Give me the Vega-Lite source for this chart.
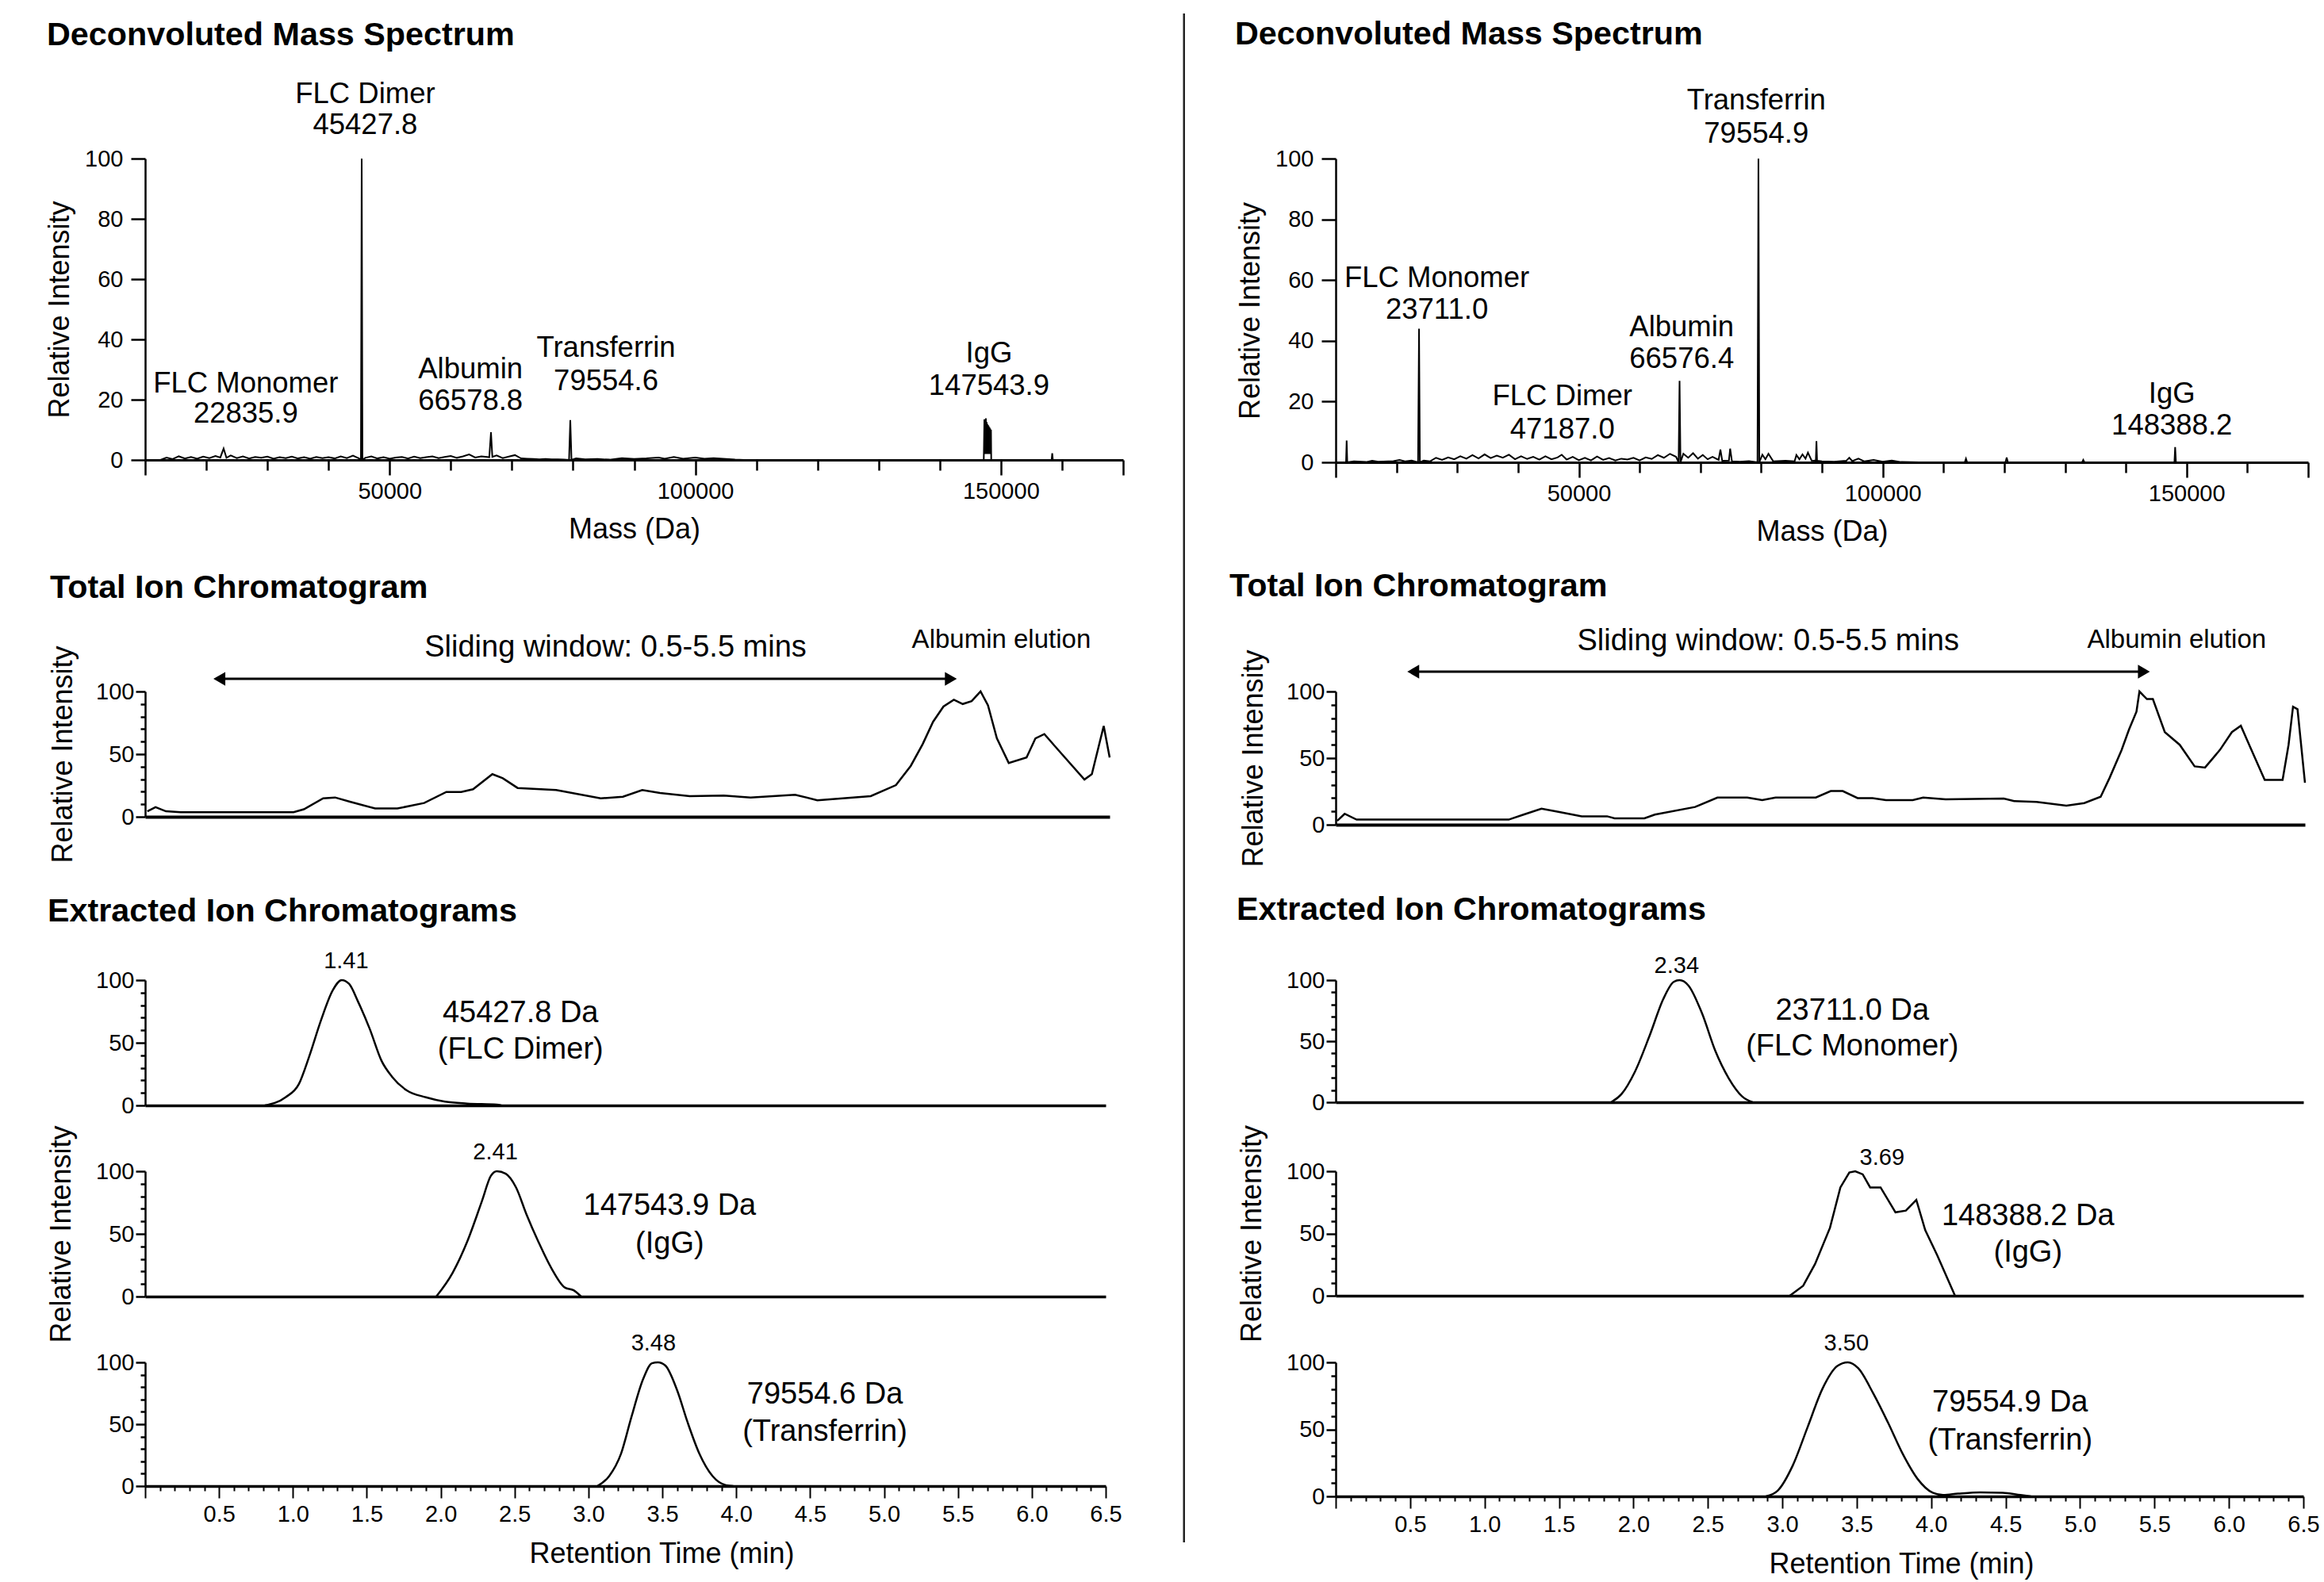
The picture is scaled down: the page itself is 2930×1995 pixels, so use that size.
{
"$schema": "https://vega.github.io/schema/vega-lite/v6.json",
"background": "white",
"padding": {"left": 57, "top": 15, "right": 5, "bottom": 5},
"columns": 2,
"align": "each",
"bounds": "flush",
"spacing": {"row": 83, "column": 268},
"config": {
  "font": "Liberation Sans",
  "view": {"stroke": null},
  "axis": {"labelFont": "Liberation Sans", "titleFont": "Liberation Sans", "labelColor": "black", "titleColor": "black", "domainColor": "black", "tickColor": "black", "titleFontWeight": "normal", "grid": false, "labelFontSize": 29, "titleFontSize": 36, "tickWidth": 2.5, "domainWidth": 2.5, "labelFlush": false},
  "title": {"font": "Liberation Sans", "fontSize": 41.3, "fontWeight": "bold", "color": "black", "anchor": "start", "frame": "group", "baseline": "bottom"},
  "text": {"font": "Liberation Sans", "color": "black", "align": "center", "baseline": "middle"}
},
"concat": [
{
 "width": 1233, "height": 380,
 "title": {"text": "Deconvoluted Mass Spectrum", "offset": 36, "dx": -124},
 "layer": [
  {"data": {"values": [
{"mass":12500,"int":0},{"mass":13500,"int":0.8},{"mass":14500,"int":0.3},{"mass":15500,"int":1.2},{"mass":16500,"int":0.5},{"mass":17500,"int":1.0},{"mass":18500,"int":0.4},{"mass":19500,"int":1.1},{"mass":20500,"int":0.6},{"mass":21500,"int":1.3},{"mass":22300,"int":0.8},{"mass":22835.9,"int":3.8},{"mass":23300,"int":0.7},{"mass":24000,"int":1.5},{"mass":25000,"int":0.6},{"mass":26000,"int":1.2},{"mass":27000,"int":0.5},{"mass":28000,"int":1.0},{"mass":29000,"int":0.7},{"mass":30000,"int":1.1},{"mass":31000,"int":0.4},{"mass":32000,"int":0.9},{"mass":33000,"int":0.6},{"mass":34000,"int":1.1},{"mass":35000,"int":0.5},{"mass":36000,"int":0.9},{"mass":37000,"int":0.4},{"mass":38000,"int":1.0},{"mass":39000,"int":0.6},{"mass":40000,"int":0.9},{"mass":41000,"int":0.5},{"mass":42000,"int":1.2},{"mass":43000,"int":0.6},{"mass":44000,"int":1.4},{"mass":45000,"int":0.5},{"mass":45300,"int":0},{"mass":45427.8,"int":100},{"mass":45550,"int":0},{"mass":46000,"int":0.7},{"mass":47000,"int":1.2},{"mass":48000,"int":0.5},{"mass":49000,"int":0.9},{"mass":50000,"int":0.4},{"mass":51000,"int":0.8},{"mass":52000,"int":1.0},{"mass":53000,"int":0.5},{"mass":54000,"int":1.1},{"mass":55000,"int":0.6},{"mass":56000,"int":0.9},{"mass":57000,"int":1.2},{"mass":58000,"int":0.6},{"mass":59000,"int":1.0},{"mass":60000,"int":1.3},{"mass":61000,"int":0.7},{"mass":62000,"int":1.2},{"mass":63000,"int":1.8},{"mass":64000,"int":0.8},{"mass":65000,"int":1.2},{"mass":66300,"int":0.9},{"mass":66578.8,"int":9.2},{"mass":66800,"int":1.0},{"mass":67500,"int":1.5},{"mass":68500,"int":0.6},{"mass":69500,"int":1.1},{"mass":70500,"int":1.6},{"mass":71500,"int":0.5},{"mass":72500,"int":0.4},{"mass":73500,"int":0.3},{"mass":74500,"int":0.2},{"mass":75500,"int":0.3},{"mass":76500,"int":0.2},{"mass":77500,"int":0.2},{"mass":78500,"int":0.1},{"mass":79350,"int":0},{"mass":79554.6,"int":13.2},{"mass":79750,"int":0},{"mass":80500,"int":0.5},{"mass":82000,"int":0.2},{"mass":84000,"int":0.3},{"mass":86000,"int":0.1},{"mass":88000,"int":0.6},{"mass":90000,"int":0.3},{"mass":92000,"int":0.5},{"mass":94000,"int":0.8},{"mass":95000,"int":0.4},{"mass":96500,"int":1.0},{"mass":98000,"int":0.4},{"mass":100000,"int":0.8},{"mass":101500,"int":0.4},{"mass":103000,"int":0.6},{"mass":105000,"int":0.3},{"mass":106500,"int":0.1},{"mass":108000,"int":0},{"mass":147200,"int":0},{"mass":147300,"int":13.5},{"mass":147360,"int":2},{"mass":147420,"int":13.2},{"mass":147480,"int":2},{"mass":147543.9,"int":13.8},{"mass":147600,"int":2},{"mass":147660,"int":12.6},{"mass":147720,"int":2},{"mass":147780,"int":12},{"mass":147840,"int":2},{"mass":147900,"int":11.6},{"mass":147960,"int":2},{"mass":148020,"int":11.2},{"mass":148080,"int":2},{"mass":148140,"int":10.8},{"mass":148200,"int":2},{"mass":148260,"int":10.4},{"mass":148320,"int":2},{"mass":148380,"int":10},{"mass":148420,"int":0},{"mass":158300,"int":0},{"mass":158400,"int":2.2},{"mass":158500,"int":0},{"mass":170000,"int":0}
  ]},
   "mark": {"type": "line", "color": "black", "strokeWidth": 2},
   "encoding": {
    "x": {"field": "mass", "type": "quantitative", "scale": {"domain": [10000, 170000], "nice": false, "zero": false},
      "axis": {"title": "Mass (Da)", "values": [10000,15000,20000,25000,30000,35000,40000,45000,50000,55000,60000,65000,70000,75000,80000,85000,90000,95000,100000,105000,110000,115000,120000,125000,130000,135000,140000,145000,150000,155000,160000,165000,170000], "format": "d", "labelExpr": "datum.value % 50000 === 0 ? datum.label : ''", "tickSize": {"condition": [{"test": "datum.value % 50000 === 0 || datum.value === 10000 || datum.value === 170000", "value": 19}, {"test": "datum.value % 10000 === 0", "value": 13}], "value": 5}, "labelPadding": 6, "titlePadding": 16, "domainWidth": 3}},
    "y": {"field": "int", "type": "quantitative", "scale": {"domain": [0, 100], "nice": false},
      "axis": {"title": "Relative Intensity", "values": [0,5,10,15,20,25,30,35,40,45,50,55,60,65,70,75,80,85,90,95,100], "labelExpr": "datum.value % 20 === 0 ? datum.label : ''", "tickSize": {"condition": {"test": "datum.value % 20 === 0", "value": 18}, "value": 9}, "labelPadding": 10, "titlePadding": 12}}
   }},
  {"data": {"values": [
{"mass":46000,"int":121.3,"label":"FLC Dimer"},{"mass":46000,"int":111.1,"label":"45427.8"},
{"mass":26460,"int":25.2,"label":"FLC Monomer"},{"mass":26460,"int":15.3,"label":"22835.9"},
{"mass":63230,"int":29.9,"label":"Albumin"},{"mass":63230,"int":19.6,"label":"66578.8"},
{"mass":85400,"int":37,"label":"Transferrin"},{"mass":85400,"int":26,"label":"79554.6"},
{"mass":148060,"int":35.2,"label":"IgG"},{"mass":148060,"int":24.6,"label":"147543.9"}
  ]},
   "mark": {"type": "text", "fontSize": 36.5},
   "encoding": {"x": {"field": "mass", "type": "quantitative"}, "y": {"field": "int", "type": "quantitative"}, "text": {"field": "label"}}}
 ]
},
{
 "width": 1226, "height": 383,
 "title": {"text": "Deconvoluted Mass Spectrum", "offset": 45, "dx": -127},
 "layer": [
  {"data": {"values": [
{"mass":11000,"int":0},{"mass":11700,"int":0},{"mass":11800,"int":7.2},{"mass":11900,"int":0},{"mass":13000,"int":0.3},{"mass":15000,"int":0.1},{"mass":16000,"int":0.5},{"mass":17000,"int":0.2},{"mass":19500,"int":0.4},{"mass":20500,"int":0.8},{"mass":21500,"int":0.3},{"mass":22500,"int":0.6},{"mass":23550,"int":0},{"mass":23711.0,"int":44},{"mass":23850,"int":0},{"mass":24500,"int":0.6},{"mass":25500,"int":0.3},{"mass":26500,"int":1.5},{"mass":27500,"int":0.8},{"mass":28500,"int":1.6},{"mass":29500,"int":1.0},{"mass":30500,"int":2.0},{"mass":31500,"int":1.2},{"mass":32500,"int":2.4},{"mass":33500,"int":1.3},{"mass":34500,"int":2.6},{"mass":35500,"int":1.4},{"mass":36500,"int":2.2},{"mass":37500,"int":1.5},{"mass":38500,"int":2.5},{"mass":39500,"int":1.0},{"mass":40500,"int":2.0},{"mass":41500,"int":1.1},{"mass":42500,"int":1.8},{"mass":43500,"int":0.9},{"mass":44500,"int":2.0},{"mass":45500,"int":1.0},{"mass":46500,"int":1.6},{"mass":47187.0,"int":2.5},{"mass":48000,"int":0.9},{"mass":49000,"int":1.8},{"mass":50000,"int":0.7},{"mass":51000,"int":1.5},{"mass":52000,"int":0.6},{"mass":53000,"int":1.9},{"mass":54000,"int":0.8},{"mass":55000,"int":1.4},{"mass":56000,"int":0.6},{"mass":57000,"int":1.2},{"mass":58000,"int":0.9},{"mass":59000,"int":1.5},{"mass":60000,"int":0.6},{"mass":61000,"int":1.6},{"mass":62000,"int":1.1},{"mass":63000,"int":2.4},{"mass":64000,"int":1.5},{"mass":65000,"int":2.8},{"mass":66000,"int":1.8},{"mass":66420,"int":0},{"mass":66576.4,"int":26.8},{"mass":66730,"int":0},{"mass":67200,"int":2.8},{"mass":68000,"int":1.5},{"mass":68800,"int":3.0},{"mass":69600,"int":1.2},{"mass":70400,"int":2.4},{"mass":71200,"int":1.0},{"mass":72000,"int":1.8},{"mass":73000,"int":0.8},{"mass":73300,"int":4.2},{"mass":73600,"int":0.5},{"mass":74700,"int":0.6},{"mass":74900,"int":4.5},{"mass":75200,"int":0.3},{"mass":76500,"int":0.2},{"mass":78000,"int":0.4},{"mass":79400,"int":0},{"mass":79554.9,"int":100},{"mass":79700,"int":0},{"mass":80200,"int":2.5},{"mass":80700,"int":1.0},{"mass":81200,"int":2.8},{"mass":82000,"int":0.3},{"mass":84000,"int":0.5},{"mass":85500,"int":0.3},{"mass":85800,"int":2.4},{"mass":86300,"int":1.0},{"mass":86800,"int":2.6},{"mass":87300,"int":1.2},{"mass":87700,"int":3.2},{"mass":88300,"int":0.6},{"mass":89000,"int":0.5},{"mass":89100,"int":7.0},{"mass":89200,"int":0.5},{"mass":90000,"int":0.3},{"mass":92000,"int":0.2},{"mass":94000,"int":0.5},{"mass":94500,"int":1.5},{"mass":95000,"int":0.4},{"mass":96000,"int":1.2},{"mass":97000,"int":0.3},{"mass":98500,"int":0.8},{"mass":100000,"int":0.2},{"mass":101500,"int":0.6},{"mass":103000,"int":0.1},{"mass":106000,"int":0},{"mass":113500,"int":0},{"mass":113700,"int":1.2},{"mass":113900,"int":0},{"mass":120200,"int":0},{"mass":120400,"int":1.6},{"mass":120600,"int":0},{"mass":132800,"int":0},{"mass":133000,"int":0.8},{"mass":133200,"int":0},{"mass":148000,"int":0},{"mass":148120,"int":5.0},{"mass":148250,"int":0},{"mass":170000,"int":0}
  ]},
   "mark": {"type": "line", "color": "black", "strokeWidth": 2},
   "encoding": {
    "x": {"field": "mass", "type": "quantitative", "scale": {"domain": [10000, 170000], "nice": false, "zero": false},
      "axis": {"title": "Mass (Da)", "values": [10000,15000,20000,25000,30000,35000,40000,45000,50000,55000,60000,65000,70000,75000,80000,85000,90000,95000,100000,105000,110000,115000,120000,125000,130000,135000,140000,145000,150000,155000,160000,165000,170000], "format": "d", "labelExpr": "datum.value % 50000 === 0 ? datum.label : ''", "tickSize": {"condition": [{"test": "datum.value % 50000 === 0 || datum.value === 10000 || datum.value === 170000", "value": 19}, {"test": "datum.value % 10000 === 0", "value": 13}], "value": 5}, "labelPadding": 6, "titlePadding": 16, "domainWidth": 3}},
    "y": {"field": "int", "type": "quantitative", "scale": {"domain": [0, 100], "nice": false},
      "axis": {"title": "Relative Intensity", "values": [0,5,10,15,20,25,30,35,40,45,50,55,60,65,70,75,80,85,90,95,100], "labelExpr": "datum.value % 20 === 0 ? datum.label : ''", "tickSize": {"condition": {"test": "datum.value % 20 === 0", "value": 18}, "value": 9}, "labelPadding": 10, "titlePadding": 12}}
   }},
  {"data": {"values": [
{"mass":26650,"int":60.6,"label":"FLC Monomer"},{"mass":26650,"int":50.2,"label":"23711.0"},
{"mass":47290,"int":21.8,"label":"FLC Dimer"},{"mass":47290,"int":10.8,"label":"47187.0"},
{"mass":66930,"int":44.4,"label":"Albumin"},{"mass":66930,"int":34,"label":"66576.4"},
{"mass":79200,"int":119,"label":"Transferrin"},{"mass":79200,"int":108,"label":"79554.9"},
{"mass":147580,"int":22.4,"label":"IgG"},{"mass":147580,"int":11.9,"label":"148388.2"}
  ]},
   "mark": {"type": "text", "fontSize": 36.5},
   "encoding": {"x": {"field": "mass", "type": "quantitative"}, "y": {"field": "int", "type": "quantitative"}, "text": {"field": "label"}}}
 ]
},
{"width": 10, "height": 123, "data": {"values": [{}]}, "mark": {"type": "point", "opacity": 0}},
{"width": 10, "height": 123, "data": {"values": [{}]}, "mark": {"type": "point", "opacity": 0}},
{
 "width": 1216, "height": 158,
 "title": {"text": "Total Ion Chromatogram", "offset": 28.5, "dx": -120},
 "resolve": {"axis": {"y": "independent"}},
 "layer": [
  {"data": {"values": [
{"t":0.015,"v":4.4},{"t":0.07,"v":7.7},{"t":0.14,"v":4.4},{"t":0.24,"v":3.7},{"t":1.0,"v":3.7},{"t":1.07,"v":6},{"t":1.2,"v":14.7},{"t":1.28,"v":15.4},{"t":1.38,"v":12},{"t":1.55,"v":6.6},{"t":1.7,"v":6.6},{"t":1.88,"v":11},{"t":2.03,"v":19.8},{"t":2.13,"v":19.8},{"t":2.21,"v":22},{"t":2.34,"v":34},{"t":2.41,"v":30.8},{"t":2.51,"v":23},{"t":2.77,"v":21.3},{"t":3.07,"v":14.7},{"t":3.22,"v":16},{"t":3.35,"v":21.3},{"t":3.47,"v":19},{"t":3.67,"v":16.5},{"t":3.9,"v":17},{"t":4.08,"v":15.4},{"t":4.38,"v":17.6},{"t":4.53,"v":13.2},{"t":4.89,"v":16.5},{"t":5.06,"v":25.3},{"t":5.16,"v":40.7},{"t":5.24,"v":58},{"t":5.31,"v":75.8},{"t":5.38,"v":88},{"t":5.45,"v":93.4},{"t":5.51,"v":90},{"t":5.57,"v":92.3},{"t":5.63,"v":100},{"t":5.68,"v":89},{"t":5.74,"v":62.6},{"t":5.82,"v":42.9},{"t":5.94,"v":47.3},{"t":6.0,"v":62.6},{"t":6.06,"v":66},{"t":6.15,"v":53.8},{"t":6.33,"v":29.7},{"t":6.38,"v":34},{"t":6.46,"v":72.5},{"t":6.5,"v":47.3}
  ]},
   "mark": {"type": "line", "color": "black", "strokeWidth": 2.5},
   "encoding": {
    "x": {"field": "t", "type": "quantitative", "scale": {"domain": [0, 6.5], "nice": false}, "axis": {"title": null, "labels": false, "ticks": false, "domainWidth": 4}},
    "y": {"field": "v", "type": "quantitative", "scale": {"domain": [0, 100], "nice": false},
      "axis": {"title": "Relative Intensity", "values": [0, 50, 100], "tickSize": 12, "labelPadding": 2, "titlePadding": 22}}
   }},
  {"data": {"values": [{"t": 0.5, "t2": 5.43, "v": 110.1}]},
   "layer": [
    {"mark": {"type": "rule", "color": "black", "strokeWidth": 3}, "encoding": {"x": {"field": "t", "type": "quantitative"}, "x2": {"field": "t2"}, "y": {"field": "v", "type": "quantitative", "axis": null}}},
    {"mark": {"type": "point", "shape": "triangle-left", "filled": true, "color": "black", "size": 300, "opacity": 1}, "encoding": {"x": {"field": "t", "type": "quantitative"}, "y": {"field": "v", "type": "quantitative", "axis": null}}},
    {"mark": {"type": "point", "shape": "triangle-right", "filled": true, "color": "black", "size": 300, "opacity": 1}, "encoding": {"x": {"field": "t2", "type": "quantitative"}, "y": {"field": "v", "type": "quantitative", "axis": null}}}
   ]},
  {"data": {"values": [{"t": 3.17, "v": 134.8, "label": "Sliding window: 0.5-5.5 mins"}]},
   "mark": {"type": "text", "fontSize": 38},
   "encoding": {"x": {"field": "t", "type": "quantitative"}, "y": {"field": "v", "type": "quantitative", "axis": {"orient": "left", "title": null, "values": [10,20,30,40,60,70,80,90], "labels": false, "domain": false, "tickSize": 6}}, "text": {"field": "label"}}},
  {"data": {"values": [{"t": 5.77, "v": 141.1, "label": "Albumin elution"}]},
   "mark": {"type": "text", "fontSize": 33},
   "encoding": {"x": {"field": "t", "type": "quantitative"}, "y": {"field": "v", "type": "quantitative", "axis": null}, "text": {"field": "label"}}}
 ]
},
{
 "width": 1222, "height": 168,
 "title": {"text": "Total Ion Chromatogram", "offset": 30, "dx": -134},
 "resolve": {"axis": {"y": "independent"}},
 "layer": [
  {"data": {"values": [
{"t":0.01,"v":2.9},{"t":0.06,"v":8.2},{"t":0.14,"v":3.8},{"t":1.16,"v":3.8},{"t":1.26,"v":7.6},{"t":1.38,"v":12},{"t":1.5,"v":9.5},{"t":1.65,"v":6.3},{"t":1.82,"v":6.3},{"t":1.87,"v":4.8},{"t":2.07,"v":4.8},{"t":2.14,"v":7.6},{"t":2.41,"v":13.3},{"t":2.56,"v":20.4},{"t":2.76,"v":20.4},{"t":2.86,"v":18.5},{"t":2.95,"v":20.4},{"t":3.22,"v":20.4},{"t":3.32,"v":25.3},{"t":3.4,"v":25.3},{"t":3.5,"v":20},{"t":3.6,"v":20},{"t":3.69,"v":18.5},{"t":3.87,"v":18.5},{"t":3.94,"v":20.4},{"t":4.09,"v":19},{"t":4.48,"v":19.6},{"t":4.55,"v":17.7},{"t":4.7,"v":17.1},{"t":4.9,"v":14.3},{"t":5.02,"v":16.2},{"t":5.13,"v":21},{"t":5.19,"v":35.2},{"t":5.27,"v":56},{"t":5.32,"v":71.4},{"t":5.37,"v":84.8},{"t":5.39,"v":100},{"t":5.44,"v":94.3},{"t":5.48,"v":94.3},{"t":5.56,"v":69.5},{"t":5.66,"v":60},{"t":5.76,"v":43.8},{"t":5.83,"v":42.9},{"t":5.93,"v":56.2},{"t":6.01,"v":69.5},{"t":6.07,"v":74.3},{"t":6.13,"v":59},{"t":6.23,"v":33.7},{"t":6.35,"v":33.7},{"t":6.39,"v":60},{"t":6.42,"v":88.6},{"t":6.45,"v":86.7},{"t":6.5,"v":31.4}
  ]},
   "mark": {"type": "line", "color": "black", "strokeWidth": 2.5},
   "encoding": {
    "x": {"field": "t", "type": "quantitative", "scale": {"domain": [0, 6.5], "nice": false}, "axis": {"title": null, "labels": false, "ticks": false, "domainWidth": 4}},
    "y": {"field": "v", "type": "quantitative", "scale": {"domain": [0, 100], "nice": false},
      "axis": {"title": "Relative Intensity", "values": [0, 50, 100], "tickSize": 12, "labelPadding": 2, "titlePadding": 22}}
   }},
  {"data": {"values": [{"t": 0.52, "t2": 5.42, "v": 114.9}]},
   "layer": [
    {"mark": {"type": "rule", "color": "black", "strokeWidth": 3}, "encoding": {"x": {"field": "t", "type": "quantitative"}, "x2": {"field": "t2"}, "y": {"field": "v", "type": "quantitative", "axis": null}}},
    {"mark": {"type": "point", "shape": "triangle-left", "filled": true, "color": "black", "size": 300, "opacity": 1}, "encoding": {"x": {"field": "t", "type": "quantitative"}, "y": {"field": "v", "type": "quantitative", "axis": null}}},
    {"mark": {"type": "point", "shape": "triangle-right", "filled": true, "color": "black", "size": 300, "opacity": 1}, "encoding": {"x": {"field": "t2", "type": "quantitative"}, "y": {"field": "v", "type": "quantitative", "axis": null}}}
   ]},
  {"data": {"values": [{"t": 2.9, "v": 137.5, "label": "Sliding window: 0.5-5.5 mins"}]},
   "mark": {"type": "text", "fontSize": 38},
   "encoding": {"x": {"field": "t", "type": "quantitative"}, "y": {"field": "v", "type": "quantitative", "axis": {"orient": "left", "title": null, "values": [10,20,30,40,60,70,80,90], "labels": false, "domain": false, "tickSize": 6}}, "text": {"field": "label"}}},
  {"data": {"values": [{"t": 5.64, "v": 138.7, "label": "Albumin elution"}]},
   "mark": {"type": "text", "fontSize": 33},
   "encoding": {"x": {"field": "t", "type": "quantitative"}, "y": {"field": "v", "type": "quantitative", "axis": null}, "text": {"field": "label"}}}
 ]
},
{"width": 10, "height": 30, "data": {"values": [{}]}, "mark": {"type": "point", "opacity": 0}},
{"width": 10, "height": 30, "data": {"values": [{}]}, "mark": {"type": "point", "opacity": 0}},
{
 "width": 1211, "height": 158,
 "title": {"text": "Extracted Ion Chromatograms", "offset": 28, "dx": -123},
 "resolve": {"axis": {"y": "independent"}},
 "layer": [
  {"data": {"values": [{"t":0.81,"v":0},{"t":0.95,"v":6.5},{"t":1.04,"v":17},{"t":1.11,"v":39},{"t":1.19,"v":68},{"t":1.27,"v":92},{"t":1.33,"v":100},{"t":1.38,"v":97},{"t":1.44,"v":83},{"t":1.52,"v":61},{"t":1.6,"v":35.5},{"t":1.67,"v":23},{"t":1.77,"v":12},{"t":1.9,"v":6.5},{"t":2.03,"v":3},{"t":2.18,"v":1.5},{"t":2.38,"v":0.7},{"t":2.41,"v":0}]},
   "mark": {"type": "line", "color": "black", "strokeWidth": 2.5, "interpolate": "monotone"},
   "encoding": {
    "x": {"field": "t", "type": "quantitative", "scale": {"domain": [0, 6.5], "nice": false}, "axis": {"title": null, "labels": false, "ticks": false, "domainWidth": 3.5}},
    "y": {"field": "v", "type": "quantitative", "scale": {"domain": [0, 100], "nice": false},
      "axis": {"title": null, "values": [0, 50, 100], "tickSize": 12, "labelPadding": 2}}
   }},
  {"data": {"values": [{"t": 1.36, "v": 115, "label": "1.41"}]},
   "mark": {"type": "text", "fontSize": 29},
   "encoding": {"x": {"field": "t", "type": "quantitative"}, "y": {"field": "v", "type": "quantitative", "axis": {"orient": "left", "title": null, "values": [10,20,30,40,60,70,80,90], "labels": false, "domain": false, "tickSize": 6}}, "text": {"field": "label"}}},
  {"data": {"values": [{"t": 2.54, "v": 73.5, "label": "45427.8 Da"}, {"t": 2.54, "v": 44.6, "label": "(FLC Dimer)"}]},
   "mark": {"type": "text", "fontSize": 38},
   "encoding": {"x": {"field": "t", "type": "quantitative"}, "y": {"field": "v", "type": "quantitative", "axis": null}, "text": {"field": "label"}}}
 ]
},
{
 "width": 1220, "height": 154,
 "title": {"text": "Extracted Ion Chromatograms", "offset": 35, "dx": -125},
 "resolve": {"axis": {"y": "independent"}},
 "layer": [
  {"data": {"values": [{"t":1.85,"v":0},{"t":1.92,"v":6.7},{"t":2.01,"v":25},{"t":2.11,"v":55},{"t":2.2,"v":84.4},{"t":2.27,"v":98.5},{"t":2.31,"v":100},{"t":2.37,"v":95.5},{"t":2.46,"v":73},{"t":2.55,"v":42},{"t":2.64,"v":19.6},{"t":2.73,"v":4.8},{"t":2.8,"v":0}]},
   "mark": {"type": "line", "color": "black", "strokeWidth": 2.5, "interpolate": "monotone"},
   "encoding": {
    "x": {"field": "t", "type": "quantitative", "scale": {"domain": [0, 6.5], "nice": false}, "axis": {"title": null, "labels": false, "ticks": false, "domainWidth": 3.5}},
    "y": {"field": "v", "type": "quantitative", "scale": {"domain": [0, 100], "nice": false},
      "axis": {"title": null, "values": [0, 50, 100], "tickSize": 12, "labelPadding": 2}}
   }},
  {"data": {"values": [{"t": 2.29, "v": 112, "label": "2.34"}]},
   "mark": {"type": "text", "fontSize": 29},
   "encoding": {"x": {"field": "t", "type": "quantitative"}, "y": {"field": "v", "type": "quantitative", "axis": {"orient": "left", "title": null, "values": [10,20,30,40,60,70,80,90], "labels": false, "domain": false, "tickSize": 6}}, "text": {"field": "label"}}},
  {"data": {"values": [{"t": 3.47, "v": 75, "label": "23711.0 Da"}, {"t": 3.47, "v": 45.5, "label": "(FLC Monomer)"}]},
   "mark": {"type": "text", "fontSize": 38},
   "encoding": {"x": {"field": "t", "type": "quantitative"}, "y": {"field": "v", "type": "quantitative", "axis": null}, "text": {"field": "label"}}}
 ]
},
{
 "width": 1211, "height": 158,
 "resolve": {"axis": {"y": "independent"}},
 "layer": [
  {"data": {"values": [{"t":1.97,"v":0},{"t":2.08,"v":18.8},{"t":2.18,"v":44},{"t":2.28,"v":76.5},{"t":2.34,"v":96.4},{"t":2.38,"v":100},{"t":2.44,"v":98},{"t":2.51,"v":87},{"t":2.58,"v":65.7},{"t":2.66,"v":44},{"t":2.75,"v":22.4},{"t":2.84,"v":7.2},{"t":2.9,"v":5},{"t":2.95,"v":0}]},
   "mark": {"type": "line", "color": "black", "strokeWidth": 2.5, "interpolate": "monotone"},
   "encoding": {
    "x": {"field": "t", "type": "quantitative", "scale": {"domain": [0, 6.5], "nice": false}, "axis": {"title": null, "labels": false, "ticks": false, "domainWidth": 3.5}},
    "y": {"field": "v", "type": "quantitative", "scale": {"domain": [0, 100], "nice": false},
      "axis": {"title": "Relative Intensity", "values": [0, 50, 100], "tickSize": 12, "labelPadding": 2, "titlePadding": 24}}
   }},
  {"data": {"values": [{"t": 2.37, "v": 115.5, "label": "2.41"}]},
   "mark": {"type": "text", "fontSize": 29},
   "encoding": {"x": {"field": "t", "type": "quantitative"}, "y": {"field": "v", "type": "quantitative", "axis": {"orient": "left", "title": null, "values": [10,20,30,40,60,70,80,90], "labels": false, "domain": false, "tickSize": 6}}, "text": {"field": "label"}}},
  {"data": {"values": [{"t": 3.55, "v": 72, "label": "147543.9 Da"}, {"t": 3.55, "v": 42, "label": "(IgG)"}]},
   "mark": {"type": "text", "fontSize": 38},
   "encoding": {"x": {"field": "t", "type": "quantitative"}, "y": {"field": "v", "type": "quantitative", "axis": null}, "text": {"field": "label"}}}
 ]
},
{
 "width": 1220, "height": 157,
 "resolve": {"axis": {"y": "independent"}},
 "layer": [
  {"data": {"values": [{"t":3.05,"v":0},{"t":3.14,"v":8},{"t":3.22,"v":25.5},{"t":3.32,"v":54.5},{"t":3.39,"v":87},{"t":3.45,"v":99},{"t":3.49,"v":100},{"t":3.54,"v":97.5},{"t":3.59,"v":87},{"t":3.66,"v":87},{"t":3.76,"v":67},{"t":3.83,"v":68.4},{"t":3.9,"v":77},{"t":3.96,"v":52.7},{"t":4.04,"v":32.7},{"t":4.16,"v":0}]},
   "mark": {"type": "line", "color": "black", "strokeWidth": 2.5},
   "encoding": {
    "x": {"field": "t", "type": "quantitative", "scale": {"domain": [0, 6.5], "nice": false}, "axis": {"title": null, "labels": false, "ticks": false, "domainWidth": 3.5}},
    "y": {"field": "v", "type": "quantitative", "scale": {"domain": [0, 100], "nice": false},
      "axis": {"title": "Relative Intensity", "values": [0, 50, 100], "tickSize": 12, "labelPadding": 2, "titlePadding": 24}}
   }},
  {"data": {"values": [{"t": 3.67, "v": 111, "label": "3.69"}]},
   "mark": {"type": "text", "fontSize": 29},
   "encoding": {"x": {"field": "t", "type": "quantitative"}, "y": {"field": "v", "type": "quantitative", "axis": {"orient": "left", "title": null, "values": [10,20,30,40,60,70,80,90], "labels": false, "domain": false, "tickSize": 6}}, "text": {"field": "label"}}},
  {"data": {"values": [{"t": 4.65, "v": 63.6, "label": "148388.2 Da"}, {"t": 4.65, "v": 34.5, "label": "(IgG)"}]},
   "mark": {"type": "text", "fontSize": 38},
   "encoding": {"x": {"field": "t", "type": "quantitative"}, "y": {"field": "v", "type": "quantitative", "axis": null}, "text": {"field": "label"}}}
 ]
},
{
 "width": 1211, "height": 156,
 "resolve": {"axis": {"x": "independent", "y": "independent"}},
 "layer": [
  {"data": {"values": [{"t":3.06,"v":0},{"t":3.14,"v":8},{"t":3.22,"v":26},{"t":3.29,"v":55.5},{"t":3.37,"v":86.5},{"t":3.43,"v":99.3},{"t":3.47,"v":100},{"t":3.52,"v":97.4},{"t":3.6,"v":77.4},{"t":3.67,"v":51.8},{"t":3.75,"v":26.3},{"t":3.84,"v":8},{"t":3.93,"v":0.7},{"t":3.98,"v":0}]},
   "mark": {"type": "line", "color": "black", "strokeWidth": 2.5, "interpolate": "monotone"},
   "encoding": {
    "x": {"field": "t", "type": "quantitative", "scale": {"domain": [0, 6.5], "nice": false},
      "axis": {"title": "Retention Time (min)", "titleX": 651, "values": [0,0.5,1,1.5,2,2.5,3,3.5,4,4.5,5,5.5,6,6.5], "format": ".1f", "labelExpr": "datum.value > 0 ? datum.label : ''", "tickSize": 15, "tickWidth": 2, "labelPadding": 6, "titlePadding": 18, "domainWidth": 3.5}},
    "y": {"field": "v", "type": "quantitative", "scale": {"domain": [0, 100], "nice": false},
      "axis": {"title": null, "values": [0, 50, 100], "tickSize": 12, "labelPadding": 2}}
   }},
  {"data": {"values": [{"t": 3.44, "v": 115.7, "label": "3.48"}]},
   "mark": {"type": "text", "fontSize": 29},
   "encoding": {"x": {"field": "t", "type": "quantitative", "axis": {"orient": "bottom", "title": null, "values": [0.1,0.2,0.3,0.4,0.6,0.7,0.8,0.9,1.1,1.2,1.3,1.4,1.6,1.7,1.8,1.9,2.1,2.2,2.3,2.4,2.6,2.7,2.8,2.9,3.1,3.2,3.3,3.4,3.6,3.7,3.8,3.9,4.1,4.2,4.3,4.4,4.6,4.7,4.8,4.9,5.1,5.2,5.3,5.4,5.6,5.7,5.8,5.9,6.1,6.2,6.3,6.4], "labels": false, "domain": false, "tickSize": 6, "tickWidth": 2}}, "y": {"field": "v", "type": "quantitative", "axis": {"orient": "left", "title": null, "values": [10,20,30,40,60,70,80,90], "labels": false, "domain": false, "tickSize": 6}}, "text": {"field": "label"}}},
  {"data": {"values": [{"t": 4.6, "v": 73.7, "label": "79554.6 Da"}, {"t": 4.6, "v": 43.8, "label": "(Transferrin)"}]},
   "mark": {"type": "text", "fontSize": 38},
   "encoding": {"x": {"field": "t", "type": "quantitative", "axis": null}, "y": {"field": "v", "type": "quantitative", "axis": null}, "text": {"field": "label"}}},
  {"data": {"values": [{"t": 7.03, "v": 1190.4, "v2": -45.5}]},
   "mark": {"type": "rule", "color": "#222222", "strokeWidth": 2.5},
   "encoding": {"x": {"field": "t", "type": "quantitative", "axis": null}, "y": {"field": "v", "type": "quantitative", "axis": null}, "y2": {"field": "v2"}}}
 ]
},
{
 "width": 1220, "height": 169,
 "resolve": {"axis": {"x": "independent", "y": "independent"}},
 "layer": [
  {"data": {"values": [{"t":2.89,"v":0},{"t":2.97,"v":4.4},{"t":3.07,"v":23},{"t":3.17,"v":51.7},{"t":3.27,"v":80.4},{"t":3.37,"v":97.3},{"t":3.44,"v":100},{"t":3.51,"v":95.6},{"t":3.61,"v":77},{"t":3.71,"v":55},{"t":3.81,"v":31.4},{"t":3.91,"v":12.8},{"t":4.01,"v":2.7},{"t":4.08,"v":1},{"t":4.18,"v":2},{"t":4.33,"v":3},{"t":4.48,"v":2.7},{"t":4.6,"v":1},{"t":4.67,"v":0}]},
   "mark": {"type": "line", "color": "black", "strokeWidth": 2.5, "interpolate": "monotone"},
   "encoding": {
    "x": {"field": "t", "type": "quantitative", "scale": {"domain": [0, 6.5], "nice": false},
      "axis": {"title": "Retention Time (min)", "titleX": 713, "values": [0,0.5,1,1.5,2,2.5,3,3.5,4,4.5,5,5.5,6,6.5], "format": ".1f", "labelExpr": "datum.value > 0 ? datum.label : ''", "tickSize": 15, "tickWidth": 2, "labelPadding": 6, "titlePadding": 18, "domainWidth": 3.5}},
    "y": {"field": "v", "type": "quantitative", "scale": {"domain": [0, 100], "nice": false},
      "axis": {"title": null, "values": [0, 50, 100], "tickSize": 12, "labelPadding": 2}}
   }},
  {"data": {"values": [{"t": 3.43, "v": 114, "label": "3.50"}]},
   "mark": {"type": "text", "fontSize": 29},
   "encoding": {"x": {"field": "t", "type": "quantitative", "axis": {"orient": "bottom", "title": null, "values": [0.1,0.2,0.3,0.4,0.6,0.7,0.8,0.9,1.1,1.2,1.3,1.4,1.6,1.7,1.8,1.9,2.1,2.2,2.3,2.4,2.6,2.7,2.8,2.9,3.1,3.2,3.3,3.4,3.6,3.7,3.8,3.9,4.1,4.2,4.3,4.4,4.6,4.7,4.8,4.9,5.1,5.2,5.3,5.4,5.6,5.7,5.8,5.9,6.1,6.2,6.3,6.4], "labels": false, "domain": false, "tickSize": 6, "tickWidth": 2}}, "y": {"field": "v", "type": "quantitative", "axis": {"orient": "left", "title": null, "values": [10,20,30,40,60,70,80,90], "labels": false, "domain": false, "tickSize": 6}}, "text": {"field": "label"}}},
  {"data": {"values": [{"t": 4.53, "v": 69.6, "label": "79554.9 Da"}, {"t": 4.53, "v": 41.6, "label": "(Transferrin)"}]},
   "mark": {"type": "text", "fontSize": 38},
   "encoding": {"x": {"field": "t", "type": "quantitative", "axis": null}, "y": {"field": "v", "type": "quantitative", "axis": null}, "text": {"field": "label"}}}
 ]
}
]
}
